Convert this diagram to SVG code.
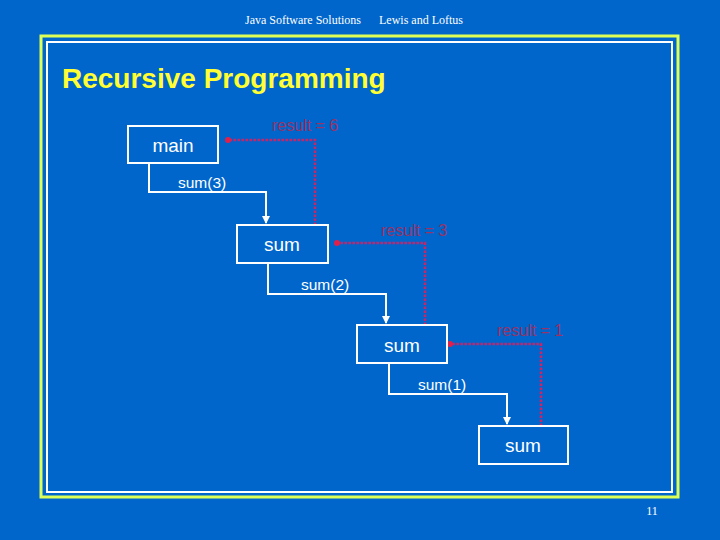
<svg xmlns="http://www.w3.org/2000/svg" width="720" height="540" viewBox="0 0 720 540">
<style>
.hdr{font-family:"Liberation Serif",serif;font-size:12px;fill:#fff}
.box{fill:none;stroke:#fff;stroke-width:2}
.lbl{font-family:"Liberation Sans",Arial,sans-serif;font-size:19px;fill:#fff;text-anchor:middle}
.call{fill:none;stroke:#fff;stroke-width:2}
.ctext{font-family:"Liberation Sans",Arial,sans-serif;font-size:15.5px;fill:#fff}
.ret{fill:none;stroke:#CC2266;stroke-width:2.5;stroke-dasharray:2.5 1.5}
.rtext{font-family:"Liberation Sans",Arial,sans-serif;font-size:16px;fill:#993366}
</style>
<defs>
<marker id="arr" markerWidth="8" markerHeight="8" refX="7" refY="4" orient="auto" markerUnits="userSpaceOnUse">
<path d="M0,0 L8,4 L0,8 z" fill="#fff"/>
</marker>
</defs>
<rect x="0" y="0" width="720" height="540" fill="#0066CC"/>
<text class="hdr" x="303" y="24" text-anchor="middle">Java Software Solutions</text>
<text class="hdr" x="421" y="24" text-anchor="middle">Lewis and Loftus</text>
<rect x="41" y="36" width="637" height="461" fill="none" stroke="#DDFF55" stroke-width="3"/>
<rect x="47" y="42" width="625" height="450" fill="none" stroke="#fff" stroke-width="2"/>
<text x="62" y="88" font-family="'Liberation Sans',Arial,sans-serif" font-weight="bold" font-size="28" fill="#FFFF33">Recursive Programming</text>

<g id="connectors">
<polyline class="call" points="149,163 149,192 266,192 266,223" marker-end="url(#arr)"/>
<text class="ctext" x="178" y="188">sum(3)</text>
<polyline class="ret" points="315,225 315,140 230,140"/>
<circle cx="228" cy="140" r="3" fill="#E0204A"/>
<text class="rtext" x="272" y="131">result = 6</text>

<polyline class="call" points="268,263 268,294 386,294 386,323" marker-end="url(#arr)"/>
<text class="ctext" x="301" y="290">sum(2)</text>
<polyline class="ret" points="425,325 425,243 339,243"/>
<circle cx="337" cy="243" r="3" fill="#E0204A"/>
<text class="rtext" x="381" y="236">result = 3</text>

<polyline class="call" points="389,363 389,394 507,394 507,424" marker-end="url(#arr)"/>
<text class="ctext" x="418" y="390">sum(1)</text>
<polyline class="ret" points="541,426 541,344 452,344"/>
<circle cx="450" cy="344" r="3" fill="#E0204A"/>
<text class="rtext" x="497" y="336">result = 1</text>
</g>

<g id="main"><rect class="box" x="128" y="126" width="90" height="37"/><text class="lbl" x="173" y="152">main</text></g>
<g id="sum3"><rect class="box" x="237" y="225" width="91" height="38"/><text class="lbl" x="282" y="251">sum</text></g>
<g id="sum2"><rect class="box" x="357" y="325" width="90" height="38"/><text class="lbl" x="402" y="352">sum</text></g>
<g id="sum1"><rect class="box" x="479" y="426" width="89" height="38"/><text class="lbl" x="523" y="452">sum</text></g>

<text class="hdr" x="652" y="515" text-anchor="middle">11</text>
</svg>
